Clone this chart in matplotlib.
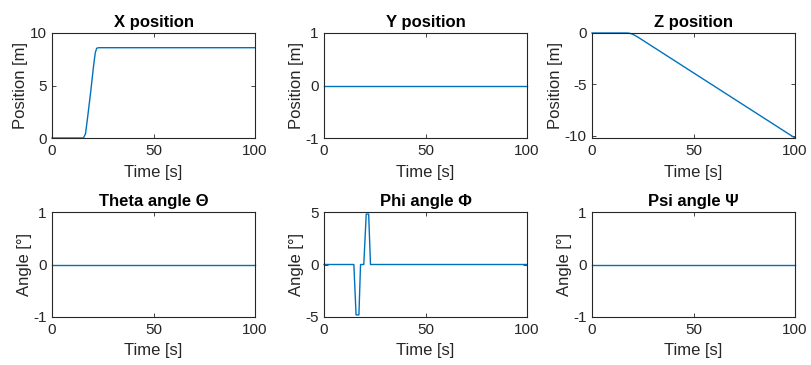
import numpy as np
from matplotlib import pyplot as plt

plt.rcParams['font.family'] = ['Liberation Sans', 'DejaVu Sans']
plt.rcParams['axes.unicode_minus'] = False

# time breakpoints and values
t_x = [0, 15.5, 16.5, 17.5, 19.0, 20.5, 21.3, 22.0, 23.0, 100]
x_pos = [0, 0, 0.4, 1.9, 4.3, 6.9, 8.1, 8.55, 8.6, 8.6]

t_y = [0, 100]
y_pos = [0, 0]

t_z = [0, 17, 18, 19, 20, 21, 22, 23, 100]
z_pos = [0, 0, -0.01, -0.05, -0.12, -0.22, -0.33, -0.45, -10.2]

t_theta = [0, 100]
theta = [0, 0]

t_phi = [0, 14.7, 15.8, 17.2, 18.0, 19.6, 20.8, 22.0, 22.9, 100]
phi = [0, 0, -4.8, -4.8, 0, 0, 4.8, 4.8, 0, 0]

t_psi = [0, 100]
psi = [0, 0]

panels = [
    ('X position', 'Position [m]', t_x, x_pos, (0, 10), [0, 5, 10]),
    ('Y position', 'Position [m]', t_y, y_pos, (-1, 1), [-1, 0, 1]),
    ('Z position', 'Position [m]', t_z, z_pos, (-10.2, 0), [-10, -5, 0]),
    ('Theta angle \u0398', 'Angle [\u00b0]', t_theta, theta, (-1, 1), [-1, 0, 1]),
    ('Phi angle \u03a6', 'Angle [\u00b0]', t_phi, phi, (-5, 5), [-5, 0, 5]),
    ('Psi angle \u03a8', 'Angle [\u00b0]', t_psi, psi, (-1, 1), [-1, 0, 1]),
]

W, H = 811, 365
lefts = [52, 324, 592]
tops = [33, 212]
aw, ah = 203, 105
dark = '#262626'

fig = plt.figure(figsize=(W / 100, H / 100), dpi=100)
for i, (title, ylabel, t, v, ylim, yticks) in enumerate(panels):
    r, c = divmod(i, 3)
    ax = fig.add_axes([lefts[c] / W, 1 - (tops[r] + ah) / H, aw / W, ah / H])
    ax.plot(t, v, color='#0072BD', linewidth=1.0, clip_on=False)
    ax.set_xlim(0, 100)
    ax.set_ylim(*ylim)
    ax.set_xticks([0, 50, 100])
    ax.set_yticks(yticks)
    ax.set_title(title, fontsize=12, fontweight='bold', pad=4, color='black')
    ax.set_xlabel('Time [s]', fontsize=12, color=dark, labelpad=5)
    ax.set_ylabel(ylabel, fontsize=12, color=dark, labelpad=1)
    ax.tick_params(direction='in', top=True, right=True, length=3, width=0.6,
                   labelsize=11, colors=dark, pad=4)
    for s in ax.spines.values():
        s.set_color(dark)
        s.set_linewidth(0.8)

fig.savefig('out.png', dpi=100)
